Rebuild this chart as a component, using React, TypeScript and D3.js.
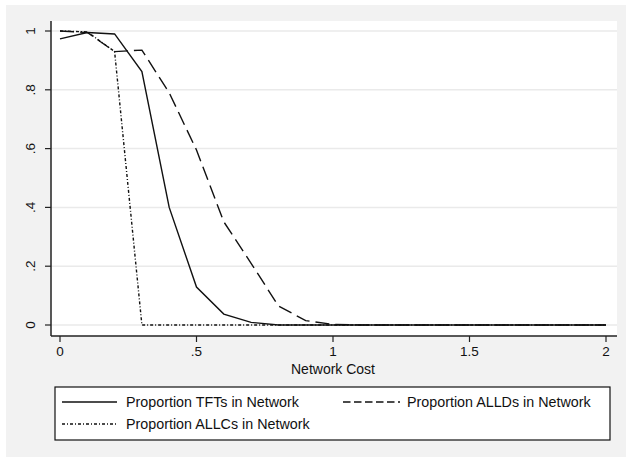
import React from "react";
import * as d3 from "d3";

const costs = [0, 0.1, 0.2, 0.3, 0.4, 0.5, 0.6, 0.7, 0.8, 0.9, 1.0, 1.1, 1.2, 1.3, 1.4, 1.5, 1.6, 1.7, 1.8, 1.9, 2.0];
const tft = [0.973, 0.995, 0.99, 0.862, 0.4, 0.129, 0.037, 0.009, 0, 0, 0, 0, 0, 0, 0, 0, 0, 0, 0, 0, 0];
const alld = [1.0, 0.995, 0.93, 0.935, 0.79, 0.595, 0.351, 0.21, 0.065, 0.015, 0.002, 0, 0, 0, 0, 0, 0, 0, 0, 0, 0];
const allc = [1.0, 0.997, 0.93, 0, 0, 0, 0, 0, 0, 0, 0, 0, 0, 0, 0, 0, 0, 0, 0, 0, 0];

const xTicks = [0, 0.5, 1, 1.5, 2];
const xTickLabels = ["0", ".5", "1", "1.5", "2"];
const yTicks = [0, 0.2, 0.4, 0.6, 0.8, 1];
const yTickLabels = ["0", ".2", ".4", ".6", ".8", "1"];

const seriesNames = ["Proportion TFTs in Network", "Proportion ALLDs in Network", "Proportion ALLCs in Network"];

const W = 626;
const H = 457;
const font = "'Liberation Sans', Arial, sans-serif";

export default function App() {
  // plot region (white)
  const plot = { left: 51, right: 617, top: 21, bottom: 336 };
  const x = d3.scaleLinear().domain([0, 2]).range([60, 606]);
  const y = d3.scaleLinear().domain([0, 1]).range([325, 31]);

  const line = d3
    .line<number>()
    .x((_, i) => x(costs[i]))
    .y((d) => y(d));

  const series = [
    { values: tft, dash: undefined as string | undefined, legendDash: undefined as string | undefined },
    { values: alld, dash: "14,6", legendDash: "7.5,3.5" },
    { values: allc, dash: "3,2,1,2", legendDash: "3,2,1,2" },
  ];

  const legend = { left: 55, right: 610, top: 387, bottom: 440 };

  return (
    <svg
      width={W}
      height={H}
      style={{ position: "absolute", left: 0, top: 0, background: "#fff" }}
      fontFamily={font}
    >
      <rect x={6} y={5} width={W - 6} height={H - 5} fill="#f2f2f2" />
      <rect x={plot.left} y={plot.top} width={plot.right - plot.left} height={plot.bottom - plot.top} fill="#fff" />

      {/* grid lines */}
      {yTicks.map((t) => (
        <line key={"g" + t} x1={plot.left} x2={plot.right} y1={y(t)} y2={y(t)} stroke="#eaeaea" strokeWidth={1.5} />
      ))}

      {/* series */}
      {series.map((s, i) => (
        <path
          key={i}
          d={line(s.values) || ""}
          fill="none"
          stroke="#111"
          strokeWidth={1.4}
          strokeDasharray={s.dash}
        />
      ))}

      {/* axes */}
      <line x1={plot.left} x2={plot.left} y1={plot.top} y2={plot.bottom} stroke="#222" strokeWidth={1.5} />
      <line x1={plot.left} x2={plot.right} y1={plot.bottom} y2={plot.bottom} stroke="#222" strokeWidth={1.5} />

      {yTicks.map((t, i) => (
        <g key={"y" + t}>
          <line x1={plot.left - 6} x2={plot.left} y1={y(t)} y2={y(t)} stroke="#222" strokeWidth={1.2} />
          <text
            transform={`translate(35,${y(t)}) rotate(-90)`}
            textAnchor="middle"
            fontSize={13.5}
            fill="#111"
          >
            {yTickLabels[i]}
          </text>
        </g>
      ))}

      {xTicks.map((t, i) => (
        <g key={"x" + t}>
          <line x1={x(t)} x2={x(t)} y1={plot.bottom} y2={plot.bottom + 6} stroke="#222" strokeWidth={1.2} />
          <text x={x(t)} y={plot.bottom + 20} textAnchor="middle" fontSize={13.5} fill="#111">
            {xTickLabels[i]}
          </text>
        </g>
      ))}

      <text x={x(1)} y={374} textAnchor="middle" fontSize={14} fill="#111">
        Network Cost
      </text>

      {/* legend */}
      <rect
        x={legend.left}
        y={legend.top}
        width={legend.right - legend.left}
        height={legend.bottom - legend.top}
        fill="#fff"
        stroke="#111"
        strokeWidth={1.2}
      />
      {[
        { sx: 62, ex: 117, tx: 126, ty: 402, s: 0 },
        { sx: 343, ex: 400, tx: 407, ty: 402, s: 1 },
        { sx: 62, ex: 117, tx: 126, ty: 424, s: 2 },
      ].map((r) => (
        <g key={"l" + r.s}>
          <line
            x1={r.sx}
            x2={r.ex}
            y1={r.ty}
            y2={r.ty}
            stroke="#111"
            strokeWidth={1.4}
            strokeDasharray={series[r.s].legendDash}
          />
          <text x={r.tx} y={r.ty + 4.5} fontSize={14.3} fill="#111">
            {seriesNames[r.s]}
          </text>
        </g>
      ))}
    </svg>
  );
}
